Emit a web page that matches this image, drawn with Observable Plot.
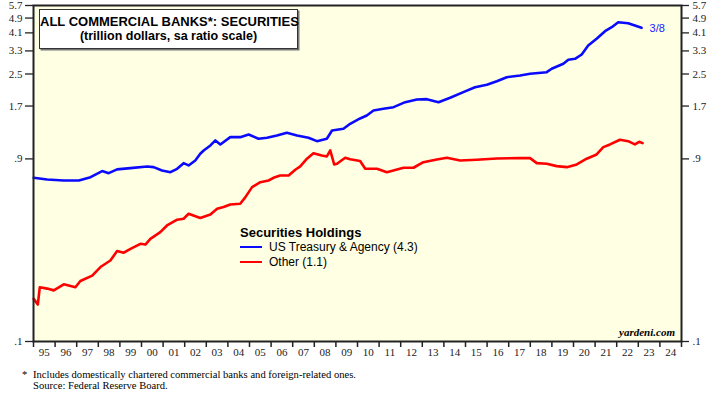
<!DOCTYPE html>
<html>
<head>
<meta charset="utf-8">
<script src="https://cdn.jsdelivr.net/npm/d3@7"></script>
<script src="https://cdn.jsdelivr.net/npm/@observablehq/plot@0.6"></script>
<style>
  html, body { margin: 0; padding: 0; background: #fff; }
  #wrap { position: relative; width: 713px; height: 393px; overflow: hidden; }
  #wrap svg { position: absolute; left: 0; top: 0; }
  .title { position: absolute; left: 39px; top: 9px; width: 257px; height: 38px; background: #fff;
    border: 1px solid #333; box-shadow: 1.5px 1.5px 0 #777; font-family: "Liberation Sans", Arial, sans-serif;
    font-weight: bold; text-align: center; color: #000; white-space: nowrap; }
  .title .t1 { font-size: 13px; line-height: 15px; margin-top: 4px; }
  .title .t2 { font-size: 12.5px; line-height: 15px; }
  .legend { position: absolute; left: 240px; top: 225px; font-family: "Liberation Sans", Arial, sans-serif; color: #000; }
  .legend .lh { font-weight: bold; font-size: 13px; line-height: 15px; }
  .legend .li { font-size: 12px; line-height: 15px; white-space: nowrap; }
  .legend .sw { display: inline-block; width: 22px; height: 2px; vertical-align: middle; margin-right: 7px; margin-top: -2px; }
  .foot { position: absolute; left: 22px; top: 369px; font-family: "Liberation Serif", "Times New Roman", serif; font-size: 10.6px; line-height: 11px; color: #000; white-space: nowrap; }
  .foot .ast { display: inline-block; width: 11px; }
  .yard { position: absolute; right: 38px; top: 326px; font-family: "Liberation Serif", "Times New Roman", serif; font-size: 11px; font-weight: bold; font-style: italic; color: #000; }
</style>
</head>
<body>
<div id="wrap"></div>
<script>
// Decimal years and values (trillion dollars)
const tusYear = [1995.01,1995.63,1996.40,1997.10,1997.64,1998.18,1998.48,1998.87,1999.49,2000.26,2000.56,2000.95,2001.34,2001.65,2001.95,2002.18,2002.49,2002.72,2002.88,2003.19,2003.42,2003.65,2004.11,2004.57,2004.96,2005.42,2005.81,2006.27,2006.73,2007.20,2007.73,2008.12,2008.58,2008.82,2009.35,2009.66,2010.12,2010.43,2010.74,2011.20,2011.67,2012.21,2012.75,2013.21,2013.75,2014.29,2014.90,2015.44,2015.99,2016.45,2016.91,2017.53,2017.99,2018.76,2018.99,2019.53,2019.76,2020.07,2020.38,2020.68,2021.07,2021.46,2021.77,2022.07,2022.53,2022.84,2023.15];
const tusValue = [0.717,0.703,0.694,0.694,0.722,0.777,0.758,0.793,0.805,0.822,0.815,0.783,0.767,0.799,0.855,0.832,0.883,0.957,0.996,1.058,1.124,1.071,1.169,1.169,1.207,1.147,1.161,1.193,1.232,1.193,1.161,1.114,1.147,1.267,1.293,1.373,1.464,1.518,1.612,1.645,1.677,1.781,1.840,1.847,1.781,1.878,2.009,2.133,2.196,2.293,2.406,2.456,2.506,2.555,2.662,2.827,2.966,3.002,3.162,3.523,3.819,4.183,4.389,4.662,4.607,4.481,4.357];

const otherYear = [1995.01,1995.20,1995.29,1995.63,1995.94,1996.40,1996.94,1997.17,1997.72,1998.10,1998.56,1998.87,1999.18,1999.49,1999.95,2000.18,2000.41,2000.87,2001.18,2001.65,2001.95,2002.18,2002.72,2003.19,2003.50,2003.80,2004.11,2004.57,2004.81,2005.12,2005.50,2005.88,2006.11,2006.42,2006.81,2007.12,2007.35,2007.66,2007.96,2008.35,2008.58,2008.74,2008.92,2009.05,2009.43,2009.66,2010.12,2010.36,2010.90,2011.36,2012.13,2012.59,2013.05,2013.67,2014.14,2014.75,2015.52,2016.45,2017.53,2017.99,2018.30,2018.76,2019.22,2019.69,2020.15,2020.61,2021.07,2021.38,2021.69,2022.15,2022.53,2022.84,2023.04,2023.20];
const otherValue = [0.167,0.156,0.192,0.189,0.185,0.199,0.192,0.207,0.221,0.245,0.265,0.297,0.291,0.305,0.324,0.321,0.344,0.373,0.404,0.433,0.438,0.465,0.442,0.461,0.494,0.504,0.520,0.525,0.568,0.641,0.680,0.694,0.717,0.737,0.737,0.790,0.822,0.902,0.964,0.938,0.927,0.996,0.842,0.849,0.913,0.897,0.878,0.799,0.799,0.767,0.809,0.809,0.865,0.894,0.913,0.883,0.891,0.905,0.908,0.908,0.855,0.849,0.825,0.815,0.842,0.902,0.949,1.037,1.071,1.133,1.114,1.071,1.106,1.088];

const yTicks = [0.1, 0.9, 1.7, 2.5, 3.3, 4.1, 4.9, 5.7];
const yTickLabels = [".1", ".9", "1.7", "2.5", "3.3", "4.1", "4.9", "5.7"];
const yearEdges = d3.range(1995, 2026);
const yearLabels = d3.range(1995, 2025);
const lastLabel = "3/8";

const tus = tusYear.map((y, i) => ({year: y, value: tusValue[i]}));
const other = otherYear.map((y, i) => ({year: y, value: otherValue[i]}));
const yLab = yTicks.map((v, i) => ({v, label: yTickLabels[i]}));

const xFmt = d => String(Math.floor(d) % 100).padStart(2, "0");
const serif = "'Liberation Serif', 'Times New Roman', serif";

const chart = Plot.plot({
  width: 713,
  height: 393,
  marginLeft: 33,
  marginRight: 32,
  marginTop: 5,
  marginBottom: 52,
  style: {fontFamily: serif, fontSize: "11px", color: "#222", background: "transparent", overflow: "visible"},
  x: {type: "linear", domain: [1995, 2025]},
  y: {type: "log", domain: [0.1, 5.7]},
  marks: [
    Plot.frame({fill: "#ffffe3", stroke: null}),
    Plot.line(tus, {x: "year", y: "value", stroke: "#0a0aff", strokeWidth: 2.6}),
    Plot.line(other, {x: "year", y: "value", stroke: "#ff0000", strokeWidth: 2.6}),
    Plot.text(tus.slice(-1), {x: "year", y: "value", text: () => lastLabel, dx: 8, dy: 1, textAnchor: "start", fill: "#1a1aff", fontFamily: "'Liberation Sans', Arial, sans-serif", fontSize: 11}),
    Plot.frame({stroke: "#222", strokeWidth: 2}),
    // y tick lines
    Plot.axisY(yTicks, {anchor: "left", tickFormat: () => "", tickSize: 8, strokeWidth: 1.3, label: null}),
    Plot.axisY(yTicks, {anchor: "right", tickFormat: () => "", tickSize: 7, strokeWidth: 1.3, label: null}),
    // y tick labels (drawn as text so the log scale keeps every label)
    Plot.text(yLab, {y: "v", text: "label", frameAnchor: "left", textAnchor: "end", dx: -11, fill: "#222", fontFamily: serif, fontSize: 11}),
    Plot.text(yLab, {y: "v", text: "label", frameAnchor: "right", textAnchor: "start", dx: 11, fill: "#222", fontFamily: serif, fontSize: 11}),
    // x axis: year boundary ticks + mid-year labels
    Plot.axisX(yearEdges, {tickFormat: () => "", tickSize: 6, strokeWidth: 1.5, label: null}),
    Plot.axisX(yearLabels.map(y => y + 0.5), {tickFormat: xFmt, tickSize: 0, tickPadding: 7, label: null})
  ]
});

const wrap = document.getElementById("wrap");
wrap.appendChild(chart);
wrap.insertAdjacentHTML("beforeend", `
  <div class="title"><div class="t1">ALL COMMERCIAL BANKS*: SECURITIES</div><div class="t2">(trillion dollars, sa ratio scale)</div></div>
  <div class="legend">
    <div class="lh">Securities Holdings</div>
    <div class="li"><span class="sw" style="background:#0a0aff"></span>US Treasury &amp; Agency (4.3)</div>
    <div class="li"><span class="sw" style="background:#ff0000"></span>Other (1.1)</div>
  </div>
  <div class="yard">yardeni.com</div>
  <div class="foot"><span class="ast">*</span>Includes domestically chartered commercial banks and foreign-related ones.<br><span class="ast"></span>Source: Federal Reserve Board.</div>
`);
</script>
</body>
</html>
